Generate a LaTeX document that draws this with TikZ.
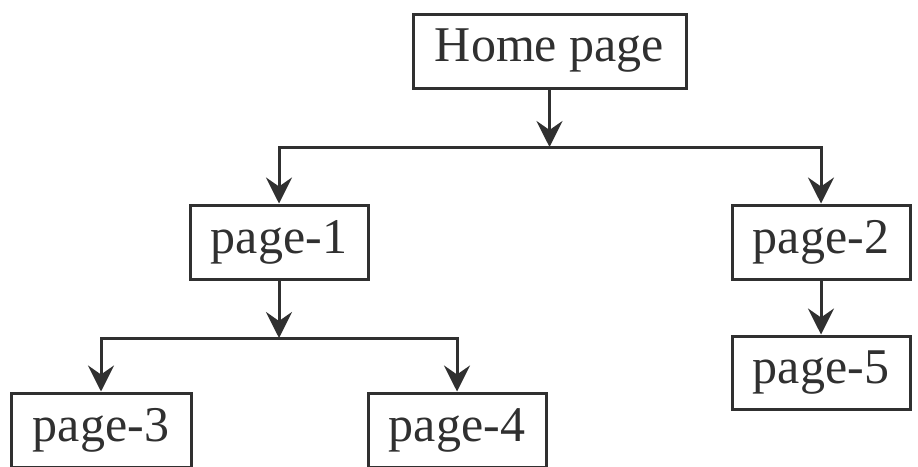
\documentclass[tikz,border=0pt]{standalone}
\usepackage{fontspec}
\setmainfont{Liberation Serif}
\usetikzlibrary{arrows.meta}
\definecolor{ink}{RGB}{48,48,48}
\begin{document}
\begin{tikzpicture}[x=1pt,y=-1pt,
  box/.style={draw=ink, line width=3pt, minimum height=74pt, inner sep=0pt,
    font=\fontsize{50}{60}\selectfont, text=ink},
  conn/.style={draw=ink, line width=3pt, line cap=rect},
  arr/.style={draw=ink, line width=3pt, -{Stealth[length=26pt,width=26pt,inset=9pt]}}]
\useasboundingbox (0,0) rectangle (918,466);
\clip (0,0) rectangle (918,466);
\fill[white] (0,0) rectangle (918,466);
\node[box, minimum width=273pt] (home) at (549.5,51) {Home page};
\node[box, minimum width=178pt] (p1) at (279,242) {page-1};
\node[box, minimum width=178pt] (p2) at (821,242) {page-2};
\node[box, minimum width=178pt, minimum height=73pt] (p5) at (821,372.5) {page-5};
\node[box, minimum width=180pt] (p3) at (101,430) {page-3};
\node[box, minimum width=178pt] (p4) at (457,430) {page-4};
\coordinate (j1) at (549.5,147);
\coordinate (j2) at (279,338);
\draw[arr] (home.south) -- (j1);
\draw[conn] (p1.north |- j1) -- (p2.north |- j1);
\draw[arr] (p1.north |- j1) -- (p1.north);
\draw[arr] (p2.north |- j1) -- (p2.north);
\draw[arr] (p1.south) -- (j2);
\draw[conn] (p3.north |- j2) -- (p4.north |- j2);
\draw[arr] (p3.north |- j2) -- (p3.north);
\draw[arr] (p4.north |- j2) -- (p4.north);
\draw[arr] (p2.south) -- (p5.north);
\end{tikzpicture}
\end{document}
